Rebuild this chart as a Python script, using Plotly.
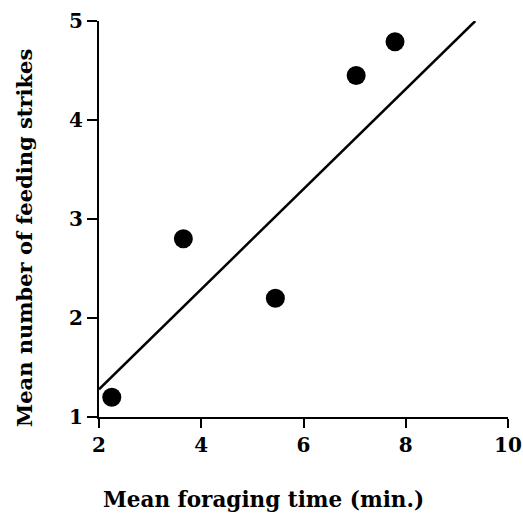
import plotly.graph_objects as go

foraging_time = [2.25, 3.65, 5.45, 7.03, 7.79]
feeding_strikes = [1.2, 2.8, 2.2, 4.45, 4.79]
fit_x = [2.0, 9.36]
fit_y = [1.28, 5.0]
x_ticks = [2, 4, 6, 8, 10]
y_ticks = [1, 2, 3, 4, 5]
x_title = "Mean foraging time (min.)"
y_title = "Mean number of feeding strikes"

font_family = "DejaVu Serif"

fig = go.Figure()
fig.add_trace(go.Scatter(x=fit_x, y=fit_y, mode="lines",
                         line=dict(color="black", width=2.5), showlegend=False,
                         cliponaxis=False, hoverinfo="skip"))
fig.add_trace(go.Scatter(x=foraging_time, y=feeding_strikes, mode="markers",
                         marker=dict(color="black", size=19), showlegend=False,
                         cliponaxis=False))

fig.update_layout(
    width=523, height=517,
    margin=dict(l=99, r=15, t=21, b=100),
    plot_bgcolor="white", paper_bgcolor="white",
    font=dict(family=font_family, color="black"),
    xaxis=dict(range=[2, 10], tickvals=x_ticks, ticks="outside", ticklen=9,
               tickwidth=2, tickcolor="black", showline=True, linewidth=2,
               linecolor="black", showgrid=False, zeroline=False, automargin=False,
               ticklabeloverflow="allow",
               tickfont=dict(family=font_family, size=20, color="black", weight="bold")),
    yaxis=dict(range=[1, 5], tickvals=y_ticks, ticks="outside", ticklen=10,
               tickwidth=2, tickcolor="black", showline=True, linewidth=2,
               linecolor="black", showgrid=False, zeroline=False, automargin=False,
               ticklabeloverflow="allow",
               tickfont=dict(family=font_family, size=20, color="black", weight="bold")),
    annotations=[
        dict(text="<b>" + x_title + "</b>", xref="paper", yref="paper",
             x=0.401, y=-0.208, xanchor="center", yanchor="middle", showarrow=False,
             font=dict(family=font_family, size=21.5, color="black")),
        dict(text="<b>" + y_title + "</b>", xref="paper", yref="paper",
             x=-0.1834, y=0.452, xanchor="center", yanchor="middle", showarrow=False,
             textangle=-90,
             font=dict(family=font_family, size=21, color="black")),
    ],
)

fig.write_html("out.html", config={"displayModeBar": False},
               post_script="document.body.style.margin='0';document.body.style.overflow='hidden';")
